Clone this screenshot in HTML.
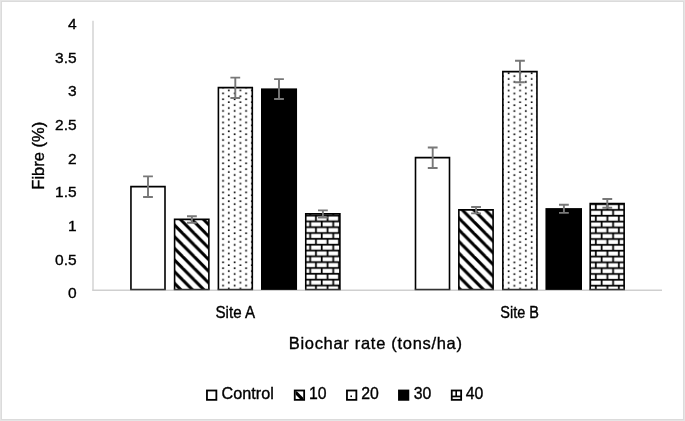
<!DOCTYPE html>
<html><head><meta charset="utf-8"><style>
html,body{margin:0;padding:0;background:#fff;}
body{width:685px;height:421px;overflow:hidden;position:relative;}
svg{position:absolute;left:0;top:0;filter:grayscale(1);}
text{font-family:"Liberation Sans",sans-serif;fill:#000;stroke:#000;stroke-width:0.35px;}
</style></head><body>
<svg width="685" height="421" viewBox="0 0 685 421">
<defs><pattern id="p1" patternUnits="userSpaceOnUse" width="8" height="8" patternTransform="translate(183.84,260.00) scale(1.44,1.456)"><rect width="8" height="8" fill="#fff"/><g fill="#000"><polygon points="-16,0 -13,0 -5,8 -8,8"/><polygon points="-8,0 -5,0 3,8 0,8"/><polygon points="0,0 3,0 11,8 8,8"/><polygon points="8,0 11,0 19,8 16,8"/></g></pattern><pattern id="p2" patternUnits="userSpaceOnUse" width="8" height="8" patternTransform="translate(219.46,149.51) scale(1.44,1.456)"><rect width="8" height="8" fill="#fff"/><g fill="#000"><rect x="1.925" y="0.925" width="1.15" height="1.15"/><rect x="5.925" y="2.925" width="1.15" height="1.15"/><rect x="1.925" y="4.925" width="1.15" height="1.15"/><rect x="5.925" y="6.925" width="1.15" height="1.15"/></g></pattern><pattern id="p4" patternUnits="userSpaceOnUse" width="8" height="8" patternTransform="translate(297.96,208.99) scale(1.44,1.456)"><rect width="8" height="8" fill="#fff"/><g fill="#000"><rect x="0" y="-0.09999999999999998" width="8" height="1.2"/><rect x="-0.09999999999999998" y="0" width="1.2" height="4"/><rect x="0" y="3.9" width="8" height="1.2"/><rect x="3.9" y="4" width="1.2" height="4"/><rect x="0" y="7.9" width="8" height="1.2"/><rect x="7.9" y="0" width="1.2" height="4"/></g></pattern><pattern id="p6" patternUnits="userSpaceOnUse" width="8" height="8" patternTransform="translate(463.54,260.00) scale(1.44,1.456)"><rect width="8" height="8" fill="#fff"/><g fill="#000"><polygon points="-16,0 -13,0 -5,8 -8,8"/><polygon points="-8,0 -5,0 3,8 0,8"/><polygon points="0,0 3,0 11,8 8,8"/><polygon points="8,0 11,0 19,8 16,8"/></g></pattern><pattern id="p7" patternUnits="userSpaceOnUse" width="8" height="8" patternTransform="translate(510.73,149.64) scale(1.44,1.456)"><rect width="8" height="8" fill="#fff"/><g fill="#000"><rect x="1.925" y="0.925" width="1.15" height="1.15"/><rect x="5.925" y="2.925" width="1.15" height="1.15"/><rect x="1.925" y="4.925" width="1.15" height="1.15"/><rect x="5.925" y="6.925" width="1.15" height="1.15"/></g></pattern><pattern id="p9" patternUnits="userSpaceOnUse" width="8" height="8" patternTransform="translate(589.36,197.52) scale(1.44,1.456)"><rect width="8" height="8" fill="#fff"/><g fill="#000"><rect x="0" y="-0.09999999999999998" width="8" height="1.2"/><rect x="-0.09999999999999998" y="0" width="1.2" height="4"/><rect x="0" y="3.9" width="8" height="1.2"/><rect x="3.9" y="4" width="1.2" height="4"/><rect x="0" y="7.9" width="8" height="1.2"/><rect x="7.9" y="0" width="1.2" height="4"/></g></pattern></defs>
<rect x="0" y="0" width="685" height="421" fill="#fff"/>
<!-- outer frame -->
<rect x="0.5" y="0.5" width="684" height="420" fill="none" stroke="#e5e5e5" stroke-width="1"/><rect x="1.5" y="1.5" width="682" height="418" fill="none" stroke="#dbdbdb" stroke-width="1"/>
<!-- axes -->
<path d="M93 20.7V290.3" stroke="#d9d9d9" stroke-width="1.7" fill="none"/><path d="M92.2 290.3H662" stroke="#cfcfcf" stroke-width="1.4" fill="none"/>
<rect x="130.95" y="186.65" width="34.05" height="102.85" fill="#fff"/><path d="M130.95 289.5V186.65H165.00V289.5" fill="none" stroke="#000" stroke-width="1.6"/><path d="M130.15 289.5H165.80" stroke="#333" stroke-width="1.35"/><rect x="174.60" y="219.40" width="34.27" height="70.10" fill="url(#p1)"/><path d="M174.60 289.5V219.40H208.87V289.5" fill="none" stroke="#000" stroke-width="1.6"/><path d="M173.80 289.5H209.67" stroke="#333" stroke-width="1.35"/><rect x="218.40" y="87.60" width="33.90" height="201.90" fill="url(#p2)"/><path d="M218.40 289.5V87.60H252.30V289.5" fill="none" stroke="#000" stroke-width="1.6"/><path d="M217.60 289.5H253.10" stroke="#333" stroke-width="1.35"/><rect x="261.00" y="88.40" width="36.05" height="201.50" fill="#000"/><rect x="305.75" y="213.90" width="34.15" height="75.60" fill="url(#p4)"/><path d="M305.75 289.5V213.90H339.90V289.5" fill="none" stroke="#000" stroke-width="1.6"/><path d="M304.95 289.5H340.70" stroke="#333" stroke-width="1.35"/><rect x="415.50" y="157.60" width="34.00" height="131.90" fill="#fff"/><path d="M415.50 289.5V157.60H449.50V289.5" fill="none" stroke="#000" stroke-width="1.6"/><path d="M414.70 289.5H450.30" stroke="#333" stroke-width="1.35"/><rect x="458.85" y="209.90" width="34.25" height="79.60" fill="url(#p6)"/><path d="M458.85 289.5V209.90H493.10V289.5" fill="none" stroke="#000" stroke-width="1.6"/><path d="M458.05 289.5H493.90" stroke="#333" stroke-width="1.35"/><rect x="502.85" y="71.65" width="34.10" height="217.85" fill="url(#p7)"/><path d="M502.85 289.5V71.65H536.95V289.5" fill="none" stroke="#000" stroke-width="1.6"/><path d="M502.05 289.5H537.75" stroke="#333" stroke-width="1.35"/><rect x="545.45" y="208.10" width="36.55" height="81.80" fill="#000"/><rect x="590.20" y="203.60" width="33.95" height="85.90" fill="url(#p9)"/><path d="M590.20 289.5V203.60H624.15V289.5" fill="none" stroke="#000" stroke-width="1.6"/><path d="M589.40 289.5H624.95" stroke="#333" stroke-width="1.35"/>
<g stroke="#787878" stroke-width="1.9" fill="none"><path d="M143.10 176.40H152.90M148.00 176.40V196.97M143.10 196.97H152.90"/><path d="M187.00 216.23H196.80M191.90 216.23V222.80M187.00 222.80H196.80"/><path d="M230.40 77.67H240.20M235.30 77.67V97.95M230.40 97.95H240.20"/><path d="M274.10 79.10H283.90M279.00 79.10V98.98M274.10 98.98H283.90"/><path d="M318.00 210.40H327.80M322.90 210.40V217.55M318.00 217.55H327.80"/><path d="M427.80 147.46H437.60M432.70 147.46V168.00M427.80 168.00H437.60"/><path d="M471.15 206.94H480.95M476.05 206.94V213.40M471.15 213.40H480.95"/><path d="M515.05 60.75H524.85M519.95 60.75V82.27M515.05 82.27H524.85"/><path d="M559.00 204.75H568.80M563.90 204.75V212.84M559.00 212.84H568.80"/><path d="M602.40 199.00H612.20M607.30 199.00V207.80M602.40 207.80H612.20"/></g>
<g font-size="15.5"><text x="76.6" y="298.30" text-anchor="end">0</text><text x="76.6" y="264.62" text-anchor="end">0.5</text><text x="76.6" y="230.95" text-anchor="end">1</text><text x="76.6" y="197.28" text-anchor="end">1.5</text><text x="76.6" y="163.60" text-anchor="end">2</text><text x="76.6" y="129.93" text-anchor="end">2.5</text><text x="76.6" y="96.25" text-anchor="end">3</text><text x="76.6" y="62.58" text-anchor="end">3.5</text><text x="76.6" y="28.90" text-anchor="end">4</text></g>
<g font-size="15.8">
<text x="215.5" y="317.6" textLength="39.6" lengthAdjust="spacingAndGlyphs">Site A</text>
<text x="500.3" y="317.6" textLength="38.6" lengthAdjust="spacingAndGlyphs">Site B</text>
</g>
<text x="288.7" y="348.8" font-size="16.5" textLength="173.3" lengthAdjust="spacing">Biochar rate (tons/ha)</text>
<text transform="translate(43.9,189.7) rotate(-90)" x="0" y="0" font-size="16.5" textLength="67.9" lengthAdjust="spacing">Fibre (%)</text>
<!-- legend -->
<defs><clipPath id="c10"><rect x="295.6" y="391.3" width="7.6" height="7.6"/></clipPath></defs>
<g stroke="#000" stroke-width="1.8">
<rect x="206.96" y="390.5" width="9.4" height="9.35" fill="#fff"/>
<rect x="294.75" y="390.5" width="9.4" height="9.35" fill="#fff"/>
<rect x="346.96" y="390.5" width="9.4" height="9.35" fill="#fff"/>
<rect x="398.96" y="390.5" width="9.4" height="9.35" fill="#000"/>
<rect x="451.75" y="390.5" width="9.4" height="9.35" fill="#fff"/>
</g>
<path d="M291.6 388.3L305.6 402.3" stroke="#000" stroke-width="3.2" clip-path="url(#c10)"/>
<rect x="350.4" y="395.5" width="1.6" height="1.6" fill="#000"/>
<rect x="455.4" y="391" width="1.6" height="5" fill="#000"/>
<rect x="452" y="395.6" width="9" height="1.7" fill="#000"/>
<g font-size="15.8">
<text x="221.6" y="399.2" textLength="52.2" lengthAdjust="spacingAndGlyphs">Control</text>
<text x="308.9" y="399.2">10</text>
<text x="361.3" y="399.2">20</text>
<text x="413.7" y="399.2">30</text>
<text x="465.8" y="399.2">40</text>
</g>
</svg>
</body></html>
